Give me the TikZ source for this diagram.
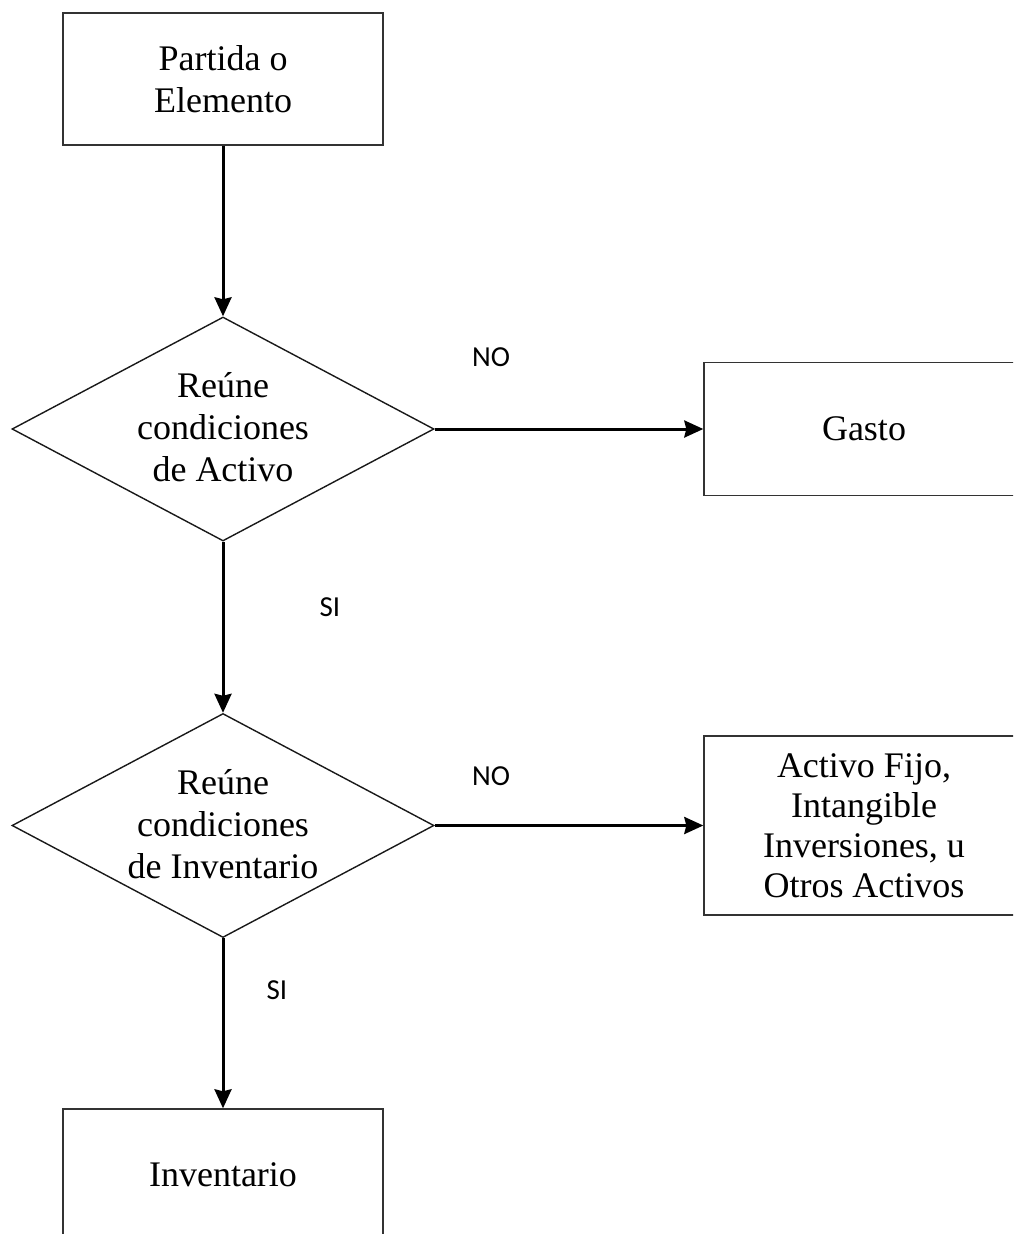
\documentclass[tikz,border=0pt]{standalone}
\usepackage{fontspec}
\setmainfont{Liberation Serif}
\newfontfamily\labfont{Carlito}
\usetikzlibrary{shapes.geometric,arrows.meta}
\begin{document}
\begin{tikzpicture}[x=1pt,y=-1pt,
  box/.style={draw=black!80,line width=1.4pt,minimum width=320pt,inner sep=0pt,align=center,font=\fontsize{36}{42}\selectfont},
  dec/.style={draw=black!90,line width=1.4pt,diamond,minimum width=422pt,minimum height=224pt,inner sep=0pt},
  txt/.style={align=center,font=\fontsize{36}{42}\selectfont,inner sep=0pt},
  lab/.style={font=\labfont\fontsize{29}{32}\selectfont,inner sep=0pt},
  arr/.style={line width=3pt,-{Stealth[length=19pt,width=17pt,inset=2pt]}}]
\clip (0,0) rectangle (1013,1234);
\node[box,minimum height=132pt] (start) at (223,79) {Partida o\\Elemento};
\node[dec] (d1) at (223,429) {};
\node[txt] (d1t) at (223,427) {Reúne\\condiciones\\de Activo};
\node[box,minimum height=133pt] (gasto) at (864,429) {Gasto};
\node[dec] (d2) at (223,825.5) {};
\node[txt] (d2t) at (223,824) {Reúne\\condiciones\\de Inventario};
\node[box,minimum height=179pt,font=\fontsize{36}{40}\selectfont] (activo) at (864,825.5) {Activo Fijo,\\Intangible\\Inversiones, u\\Otros Activos};
\node[box,minimum height=132pt] (inv) at (223,1175) {Inventario};
\draw[arr] (start.south) -- (d1.north);
\draw[arr] (d1.east) -- (gasto.west);
\draw[arr] (d1.south) -- (d2.north);
\draw[arr] (d2.east) -- (activo.west);
\draw[arr] (d2.south) -- (inv.north);
\node[lab] (no1) at (491,357) {NO};
\node[lab] (si1) at (330,607) {SI};
\node[lab] (no2) at (491,776) {NO};
\node[lab] (si2) at (277,990) {SI};
\end{tikzpicture}
\end{document}
